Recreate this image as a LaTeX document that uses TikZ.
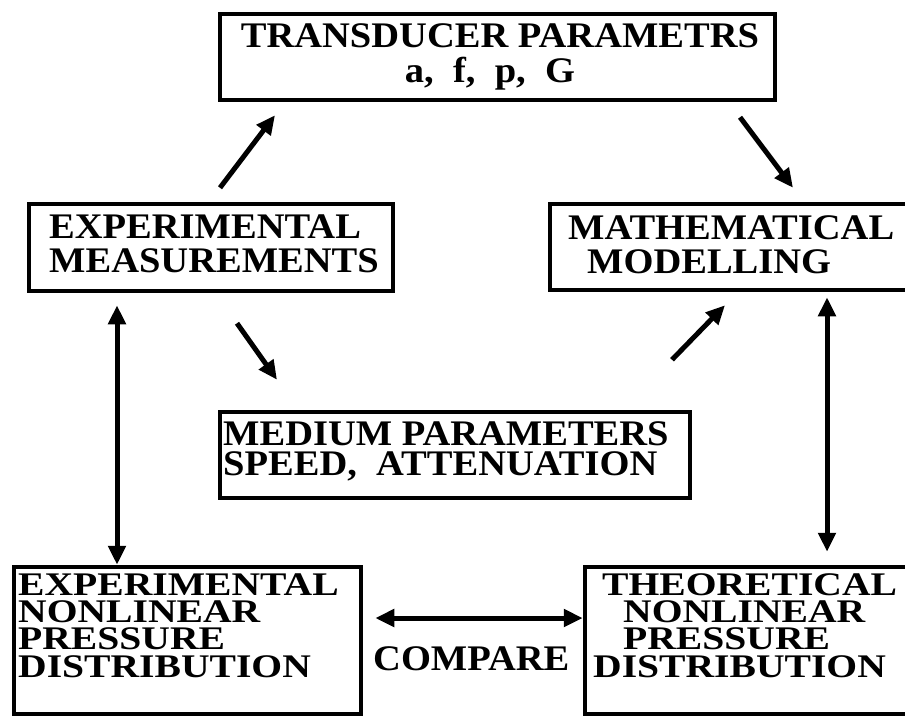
\documentclass[tikz,border=0pt]{standalone}
\usepackage{fontspec}
\setmainfont{Liberation Serif}
\newfontfamily\tfont{Liberation Serif}[FakeStretch=1.07]
\newfontfamily\bfont{Liberation Serif}[FakeStretch=1.2]
\usetikzlibrary{arrows.meta,calc}
\tikzset{
  boxnode/.style={draw, line width=4.5pt, rectangle, inner sep=0pt},
  lbl/.style={anchor=base west, inner sep=0pt, align=left, font=\tfont\bfseries\fontsize{36}{34}\selectfont},
  lblc/.style={anchor=base, inner sep=0pt, align=center, font=\tfont\bfseries\fontsize{36}{35}\selectfont},
  lblm/.style={anchor=base west, inner sep=0pt, align=left, font=\tfont\bfseries\fontsize{36}{30}\selectfont},
  lblb/.style={anchor=base west, inner sep=0pt, align=left, font=\bfont\bfseries\fontsize{33}{27.3}\selectfont},
  arr/.style={line width=5pt, -{Triangle[length=19pt,width=17pt]}},
  darr/.style={line width=5pt, {Triangle[length=19pt,width=17pt]}-{Triangle[length=19pt,width=17pt]}}
}
\begin{document}
\begin{tikzpicture}[x=1pt,y=-1pt]
\clip (0,0) rectangle (905,718);
\fill[white] (0,0) rectangle (905,718);
% boxes
\node[boxnode, minimum width=555pt, minimum height=86pt] (top) at (497.5,57) {};
\node[boxnode, minimum width=364pt, minimum height=87pt] (meas) at (211,247.5) {};
\node[boxnode, minimum width=410pt, minimum height=86pt] (math) at (755,247) {};
\node[boxnode, minimum width=470pt, minimum height=86pt] (med) at (455,455) {};
\node[boxnode, minimum width=347pt, minimum height=147pt] (expd) at (187.5,640.5) {};
\node[boxnode, minimum width=375pt, minimum height=147pt] (theo) at (772.5,640.5) {};
% texts (anchored at the baseline of the last line)
\node[lblc] (ttop) at (500,82) {TRANSDUCER PARAMETRS\\\hspace*{-20pt}a,\ \ f,\ \ p,\ \ G};
\node[lbl] (tmeas) at (49,272) {EXPERIMENTAL\\MEASUREMENTS};
\node[lbl] (tmath) at (568,273) {MATHEMATICAL\\\hspace*{19pt}MODELLING};
\node[lblm] (tmed) at (223,475) {MEDIUM PARAMETERS\\SPEED,\ \ ATTENUATION};
\node[lbl] (cmp) at (373,670) {COMPARE};
\node[lblb] (texpd) at (18,677) {EXPERIMENTAL\\NONLINEAR\\PRESSURE\\DISTRIBUTION};
\node[lblb] (ttheo) at (593,677) {\hspace*{9pt}THEORETICAL\\\hspace*{30pt}NONLINEAR\\\hspace*{30pt}PRESSURE\\DISTRIBUTION};
% connectors
\draw[arr] ([xshift=9pt,yshift=14pt]meas.north) -- ([xshift=-222.5pt,yshift=-13pt]top.south);
\draw[arr] ([xshift=242.5pt,yshift=-15pt]top.south) -- ([xshift=38pt,yshift=14pt]math.north);
\draw[arr] ([xshift=26pt,yshift=-30pt]meas.south) -- ([xshift=-178pt,yshift=30pt]med.north);
\draw[arr] ([xshift=217pt,yshift=50pt]med.north) -- ([xshift=-30pt,yshift=-13pt]math.south);
\draw[darr] ([xshift=-94pt,yshift=-12pt]meas.south) -- ([xshift=-70.5pt]expd.north);
\draw[darr] ([xshift=72pt,yshift=-5pt]math.south) -- ([xshift=54.5pt,yshift=13pt]theo.north);
\draw[darr] ([xshift=12pt,yshift=22.5pt]expd.east) -- ([yshift=22.5pt]theo.west);
\end{tikzpicture}
\end{document}
